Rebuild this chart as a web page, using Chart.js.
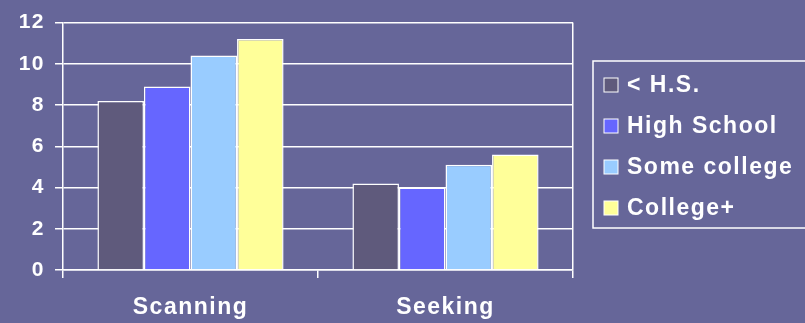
<!DOCTYPE html>
<html>
<head>
<meta charset="utf-8">
<script src="https://cdn.jsdelivr.net/npm/chart.js@4/dist/chart.umd.min.js"></script>
<style>
  html, body { margin: 0; padding: 0; background: #666699; }
  #wrap { width: 805px; height: 323px; }
</style>
</head>
<body>
<div id="wrap"><canvas id="chart" width="805" height="323"></canvas></div>
<script>
// Time spent per activity, by education level
const categories = ['Scanning', 'Seeking'];
const lessThanHS = [8.2, 4.2];
const highSchool = [8.9, 4.0];
const someCollege = [10.4, 5.1];
const collegePlus = [11.2, 5.6];
const yTicks = [0, 2, 4, 6, 8, 10, 12];

const FAMILY = 'Arial, "Liberation Sans", sans-serif';
const AXIS_FONT = { family: FAMILY, size: 21, weight: 'bold' };
const LABEL_FONT = { family: FAMILY, size: 23, weight: 'bold' };
const WHITE = '#ffffff';
const SPACING = '1.5px';

// canvas resets its state on resize, so set the spacing again before layout and draw
const letterSpacing = {
    id: 'letterSpacing',
    beforeLayout(chart) { chart.ctx.letterSpacing = SPACING; },
    beforeDraw(chart) { chart.ctx.letterSpacing = SPACING; }
};

// framed legend to the right of the plot
const boxLegend = {
    id: 'boxLegend',
    afterDraw(chart) {
        const ctx = chart.ctx;
        const left = chart.chartArea.right + 20;
        const top = 61;
        const rowGap = 41;
        ctx.save();
        ctx.letterSpacing = SPACING;
        ctx.strokeStyle = WHITE;
        ctx.lineWidth = 1.5;
        ctx.strokeRect(left, top, 260, 167);
        ctx.font = `bold ${LABEL_FONT.size}px ${FAMILY}`;
        ctx.textBaseline = 'middle';
        ctx.textAlign = 'left';
        chart.data.datasets.forEach((ds, i) => {
            const cy = top + 24 + i * rowGap;
            ctx.fillStyle = ds.backgroundColor;
            ctx.fillRect(left + 11, cy - 7, 14, 14);
            ctx.lineWidth = 1;
            ctx.strokeRect(left + 11, cy - 7, 14, 14);
            ctx.fillStyle = WHITE;
            ctx.fillText(ds.label, left + 34, cy + 1);
        });
        ctx.restore();
    }
};

const makeSet = (label, data, color) => ({
    label: label,
    data: data,
    backgroundColor: color,
    borderColor: WHITE,
    borderWidth: 1.5,
    barPercentage: 1,
    categoryPercentage: 0.73
});

new Chart(document.getElementById('chart'), {
    type: 'bar',
    data: {
        labels: categories,
        datasets: [
            makeSet('< H.S.', lessThanHS, '#5f5a7c'),
            makeSet('High School', highSchool, '#6666ff'),
            makeSet('Some college', someCollege, '#99ccff'),
            makeSet('College+', collegePlus, '#ffff99')
        ]
    },
    options: {
        responsive: false,
        animation: false,
        devicePixelRatio: 1,
        layout: { padding: { left: 0, right: 232, top: 19, bottom: 0 } },
        plugins: {
            legend: { display: false },
            tooltip: { enabled: false }
        },
        scales: {
            x: {
                offset: true,
                grid: {
                    offset: true,
                    // only the closing line on the right is drawn across the plot
                    color: c => c.type === 'tick' ? 'transparent' : WHITE,
                    lineWidth: 1.5,
                    tickColor: WHITE,
                    tickWidth: 1.5,
                    tickLength: 8
                },
                border: { color: WHITE, width: 1.5 },
                ticks: { color: WHITE, font: LABEL_FONT, padding: 16 },
                afterFit: s => { s.height = 53; }
            },
            y: {
                min: 0,
                max: 12,
                afterBuildTicks: s => { s.ticks = yTicks.map(v => ({ value: v })); },
                grid: {
                    color: WHITE,
                    lineWidth: 1.5,
                    tickColor: WHITE,
                    tickLength: 8
                },
                border: { color: WHITE, width: 1.5 },
                ticks: { color: WHITE, font: AXIS_FONT, padding: 10 },
                afterFit: s => { s.width = 63; }
            }
        }
    },
    plugins: [letterSpacing, boxLegend]
});
</script>
</body>
</html>
